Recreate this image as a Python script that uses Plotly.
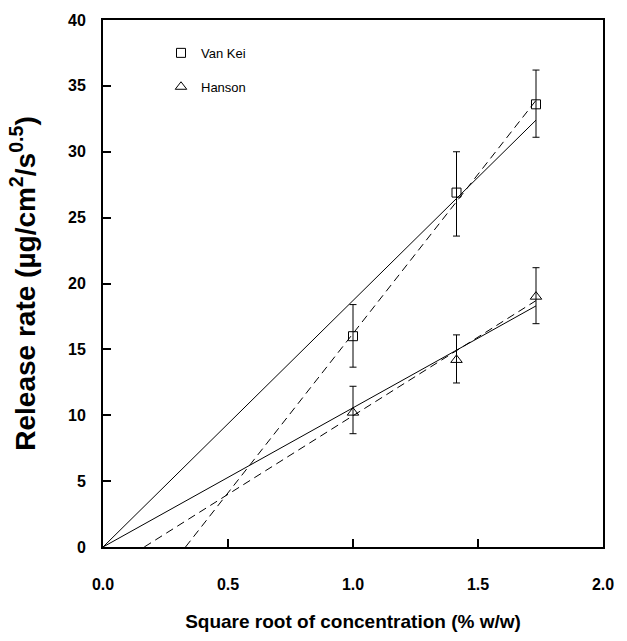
import plotly.graph_objects as go

# Data
x_vals = [1.0, 1.414, 1.732]

vankel_y = [16.0, 26.9, 33.6]
vankel_err_plus = [2.4, 3.1, 2.6]
vankel_err_minus = [2.35, 3.3, 2.5]

hanson_y = [10.2, 14.2, 19.0]
hanson_err_plus = [2.0, 1.9, 2.2]
hanson_err_minus = [1.6, 1.75, 2.05]

# Fitted lines (end points)
vankel_solid_x = [0.0, 1.732]
vankel_solid_y = [0.0, 32.4]
vankel_dash_x = [0.33, 1.732]
vankel_dash_y = [0.0, 33.9]

hanson_solid_x = [0.0, 1.732]
hanson_solid_y = [0.0, 18.3]
hanson_dash_x = [0.165, 1.732]
hanson_dash_y = [0.0, 18.7]

x_ticks = [0.0, 0.5, 1.0, 1.5, 2.0]
x_tick_labels = ["0.0", "0.5", "1.0", "1.5", "2.0"]
y_ticks = [0, 5, 10, 15, 20, 25, 30, 35, 40]

FONT = "Liberation Sans, Arial, sans-serif"

fig = go.Figure()

for xs, ys, dash in [
    (vankel_solid_x, vankel_solid_y, "solid"),
    (vankel_dash_x, vankel_dash_y, "8px,5px"),
    (hanson_solid_x, hanson_solid_y, "solid"),
    (hanson_dash_x, hanson_dash_y, "8px,5px"),
]:
    fig.add_trace(go.Scatter(
        x=xs, y=ys, mode="lines",
        line=dict(color="black", width=1, dash=dash),
        showlegend=False, hoverinfo="skip",
    ))

fig.add_trace(go.Scatter(
    x=x_vals, y=vankel_y, mode="markers", name="Van Kei",
    legendgroup="a",
    marker=dict(symbol="square-open", size=9, color="black",
                line=dict(width=1, color="black")),
    error_y=dict(type="data", array=vankel_err_plus, arrayminus=vankel_err_minus,
                 symmetric=False, color="black", thickness=1, width=3.5),
))
fig.add_trace(go.Scatter(
    x=x_vals, y=hanson_y, mode="markers", name="Hanson",
    legendgroup="b",
    marker=dict(symbol="triangle-up-open", size=10, color="black",
                line=dict(width=1, color="black")),
    error_y=dict(type="data", array=hanson_err_plus, arrayminus=hanson_err_minus,
                 symmetric=False, color="black", thickness=1, width=3.5),
))

fig.update_layout(
    width=627, height=641,
    margin=dict(l=102.5, r=24.3, t=18, b=90),
    paper_bgcolor="white", plot_bgcolor="white",
    font=dict(family=FONT, color="black"),
    showlegend=True,
    legend=dict(
        x=0.116, y=0.966, xanchor="left", yanchor="top",
        font=dict(family=FONT, size=13, color="black"),
        bgcolor="rgba(0,0,0,0)", borderwidth=0,
        tracegroupgap=14,
    ),
    xaxis=dict(
        range=[0, 2], tickvals=x_ticks, ticktext=x_tick_labels,
        ticks="inside", ticklen=8, tickwidth=2, tickcolor="black",
        showline=True, linecolor="black", linewidth=2, mirror=True,
        showgrid=False, zeroline=False,
        tickfont=dict(family=FONT, size=16, weight="bold", color="black"),
        ticklabelstandoff=22,
        title=dict(text="Square root of concentration (% w/w)",
                   font=dict(family=FONT, size=19, weight="bold", color="black"),
                   standoff=22),
    ),
    yaxis=dict(
        range=[0, 40], tickvals=y_ticks,
        ticks="inside", ticklen=8, tickwidth=2, tickcolor="black",
        showline=True, linecolor="black", linewidth=2, mirror=True,
        showgrid=False, zeroline=False,
        tickfont=dict(family=FONT, size=16, weight="bold", color="black"),
        ticklabelstandoff=12,
        title=dict(text="Release rate (µg/cm<sup>2</sup>/s<sup>0.5</sup>)",
                   font=dict(family=FONT, size=28, weight="bold", color="black"),
                   standoff=24),
    ),
)

fig.write_html(
    "out.html",
    config={"displayModeBar": False},
    post_script="document.body.style.margin='0px';document.body.style.overflow='hidden';",
)
